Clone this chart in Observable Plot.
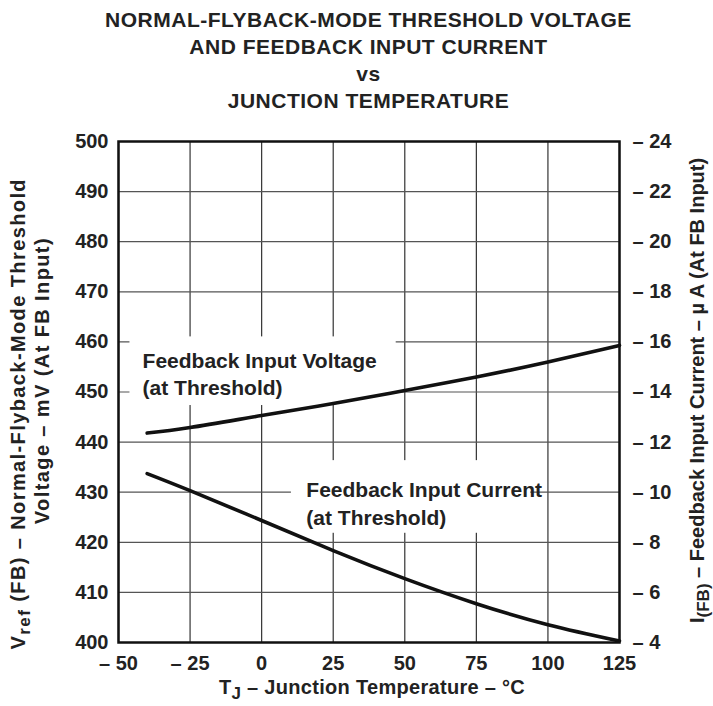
<!DOCTYPE html>
<html>
<head>
<meta charset="utf-8">
<script src="https://cdn.jsdelivr.net/npm/d3@7"></script>
<script src="https://cdn.jsdelivr.net/npm/@observablehq/plot@0.6"></script>
<style>
  body { margin: 0; background: #fff; font-family: "Liberation Sans", Arial, Helvetica, sans-serif; }
  #title { width: 713px; height: 115px; box-sizing: border-box; padding-top: 6px; padding-left: 24px;
           text-align: center; font-weight: bold; font-size: 21px; letter-spacing: 0.5px; line-height: 27px; color: #222; }
</style>
</head>
<body>
<div id="title">NORMAL-FLYBACK-MODE THRESHOLD VOLTAGE<br>AND FEEDBACK INPUT CURRENT<br>vs<br>JUNCTION TEMPERATURE</div>
<div id="chart"></div>
<script>
// Junction temperature (°C)
const tempC = [-40, -25, 0, 25, 50, 75, 100, 125];
// Feedback input voltage at threshold (mV)
const voltageMV = [441.8, 442.9, 445.3, 447.7, 450.3, 453.0, 456.0, 459.3];
// Feedback input current at threshold (µA)
const currentUA = [10.74, 10.06, 8.87, 7.67, 6.55, 5.55, 4.71, 4.06];

const xTicks = [-50, -25, 0, 25, 50, 75, 100, 125];
const yTicks = [400, 410, 420, 430, 440, 450, 460, 470, 480, 490, 500];

// Curve annotations
const labelText = ["Feedback Input Voltage\n(at Threshold)", "Feedback Input Current\n(at Threshold)"];
const labelX = [-41.6, 15.6];
const labelY = [453.8, 428.0];
// White backing behind the annotations (data units)
const boxX1 = [-46, 10.4];
const boxX2 = [47, 94];
const boxY1 = [447.3, 421.8];
const boxY2 = [461, 436.3];

// Map current (µA) onto the voltage scale: 4 µA ↔ 400 mV, 24 µA ↔ 500 mV
const cur2v = i => 400 + (i - 4) * 5;
const v2cur = v => (v - 400) / 5 + 4;

const vData = tempC.map((t, i) => ({t, v: voltageMV[i]}));
const cData = tempC.map((t, i) => ({t, v: cur2v(currentUA[i])}));
const labels = labelText.map((s, i) => ({s, x: labelX[i], y: labelY[i]}));
const boxes = boxX1.map((x1, i) => ({x1, x2: boxX2[i], y1: boxY1[i], y2: boxY2[i]}));

const W = 713, H = 591;
const plot = Plot.plot({
  width: W, height: H,
  marginTop: 26, marginBottom: 64, marginLeft: 118, marginRight: 94,
  style: {fontFamily: '"Liberation Sans", Arial, Helvetica, sans-serif', fontSize: "20px", fontWeight: "bold", color: "#222", background: "#fff"},
  x: {domain: [-50, 125]},
  y: {domain: [400, 500]},
  marks: [
    Plot.gridX(xTicks, {stroke: "#333", strokeOpacity: 1, strokeWidth: 1.2}),
    Plot.gridY(yTicks, {stroke: "#555", strokeOpacity: 1, strokeWidth: 1.2}),
    Plot.rect(boxes, {x1: "x1", x2: "x2", y1: "y1", y2: "y2", fill: "#fff"}),
    Plot.axisX({ticks: xTicks, tickSize: 0, tickPadding: 13, label: null,
      tickFormat: d => d < 0 ? `– ${-d}` : `${d}`}),
    Plot.axisY({anchor: "left", ticks: yTicks, tickSize: 0, tickPadding: 10, label: null}),
    Plot.axisY({anchor: "right", ticks: yTicks, tickSize: 0, tickPadding: 13, label: null,
      tickFormat: d => `– ${v2cur(d)}`}),
    Plot.line(vData, {x: "t", y: "v", curve: "natural", stroke: "#111", strokeWidth: 3.6}),
    Plot.line(cData, {x: "t", y: "v", curve: "natural", stroke: "#111", strokeWidth: 3.6}),
    Plot.text(labels, {x: "x", y: "y", text: "s", textAnchor: "start", lineAnchor: "middle",
      lineHeight: 1.3, fontSize: 21, fontWeight: "bold", fill: "#222"}),
    Plot.frame({stroke: "#111", strokeWidth: 2.5})
  ]
});
document.getElementById("chart").appendChild(plot);

// Axis titles with subscripts
const svg = d3.select(plot);
const font = '"Liberation Sans", Arial, Helvetica, sans-serif';
function addLabel(x, y, rotate, anchor, spacing, parts) {
  const t = svg.append("text")
    .attr("transform", `translate(${x},${y}) rotate(${rotate})`)
    .attr("text-anchor", anchor)
    .attr("dy", "0.35em")
    .attr("letter-spacing", spacing)
    .attr("font-family", font).attr("font-size", 20).attr("font-weight", "bold").attr("fill", "#222");
  parts.forEach(([s, sub]) => {
    const ts = t.append("tspan").text(s);
    if (sub) ts.attr("baseline-shift", "-5").attr("font-size", 17);
  });
}
addLabel(18, 63, -90, "end", 1.4, [["V"], ["ref", true], [" (FB) – Normal-Flyback-Mode Threshold"]]);
addLabel(42, 122, -90, "end", 1.4, [["Voltage – mV (At FB Input)"]]);
addLabel(697, 508, -90, "start", 0, [["I"], ["(FB)", true], [" – Feedback Input Current – µ A (At FB Input)"]]);
addLabel(372, 572, 0, "middle", 0.3, [["T"], ["J", true], [" – Junction Temperature – °C"]]);
</script>
</body>
</html>
